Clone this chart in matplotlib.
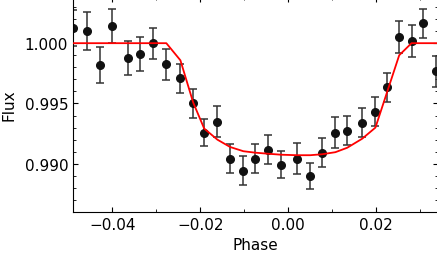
import matplotlib
matplotlib.use("Agg")
import matplotlib.pyplot as plt
from matplotlib.ticker import MultipleLocator

# observed points
phase = [-0.0489, -0.0457, -0.0427, -0.0400, -0.0364, -0.0336, -0.0307, -0.0277,
         -0.0245, -0.0216, -0.0191, -0.0161, -0.0132, -0.0102, -0.0075, -0.0045,
         -0.0016, 0.0020, 0.0050, 0.0077, 0.0107, 0.0134, 0.0168, 0.0198,
         0.0225, 0.0252, 0.0280, 0.0307, 0.0336]
flux = [1.00125, 1.00100, 0.99817, 1.00142, 0.99875, 0.99908, 1.00000, 0.99825,
        0.99708, 0.99500, 0.99258, 0.99350, 0.99042, 0.98942, 0.99042, 0.99117,
        0.98992, 0.99042, 0.98900, 0.99092, 0.99258, 0.99275, 0.99342, 0.99433,
        0.99633, 1.00050, 1.00017, 1.00167, 0.99767]
err = [0.0015, 0.0016, 0.0015, 0.0014, 0.0014, 0.0014, 0.0013, 0.0013,
       0.0012, 0.0012, 0.0011, 0.0013, 0.0012, 0.0012, 0.0012, 0.0012,
       0.0011, 0.0013, 0.0011, 0.0012, 0.0013, 0.0012, 0.0012, 0.0012,
       0.0012, 0.0013, 0.0013, 0.0012, 0.0013]

# transit model
model_phase = [-0.0489, -0.0277, -0.0245, -0.0216, -0.0191, -0.0161, -0.0132,
               -0.0102, -0.0075, -0.0045, -0.0016, 0.0020, 0.0050, 0.0077,
               0.0107, 0.0134, 0.0168, 0.0198, 0.0225, 0.0252, 0.0280, 0.0340]
model_flux = [1.0, 1.0, 0.99858, 0.99508, 0.99292, 0.99200, 0.99139,
              0.99104, 0.99092, 0.99083, 0.99075, 0.99071, 0.99071, 0.99079,
              0.99096, 0.99133, 0.99208, 0.99300, 0.99600, 0.99900, 1.0, 1.0]

fig = plt.figure(figsize=(4.37, 2.55), dpi=100)
ax = fig.add_axes([73 / 437, 42 / 255, 364.5 / 437, 215 / 255])

ax.errorbar(phase, flux, yerr=err, fmt='o', color='#111111', ecolor='#333333',
            markersize=5.5, elinewidth=1.1, capsize=3.2, capthick=1.1, zorder=2)
ax.plot(model_phase, model_flux, color='red', lw=1.3, zorder=3)

ax.set_xlim(-0.0489, 0.0339)
ax.set_ylim(0.986, 1.00383)
ax.xaxis.set_major_locator(MultipleLocator(0.02))
ax.xaxis.set_minor_locator(MultipleLocator(0.01))
ax.yaxis.set_major_locator(MultipleLocator(0.005))
ax.yaxis.set_minor_locator(MultipleLocator(0.001))
ax.tick_params(which='both', direction='in', top=True, right=True, labelsize=11)
ax.tick_params(which='major', length=3.5)
ax.tick_params(which='minor', length=2)
ax.set_xlabel('Phase', fontsize=11, labelpad=4)
ax.set_ylabel('Flux', fontsize=11, labelpad=6)

fig.savefig('out.png', dpi=100)
